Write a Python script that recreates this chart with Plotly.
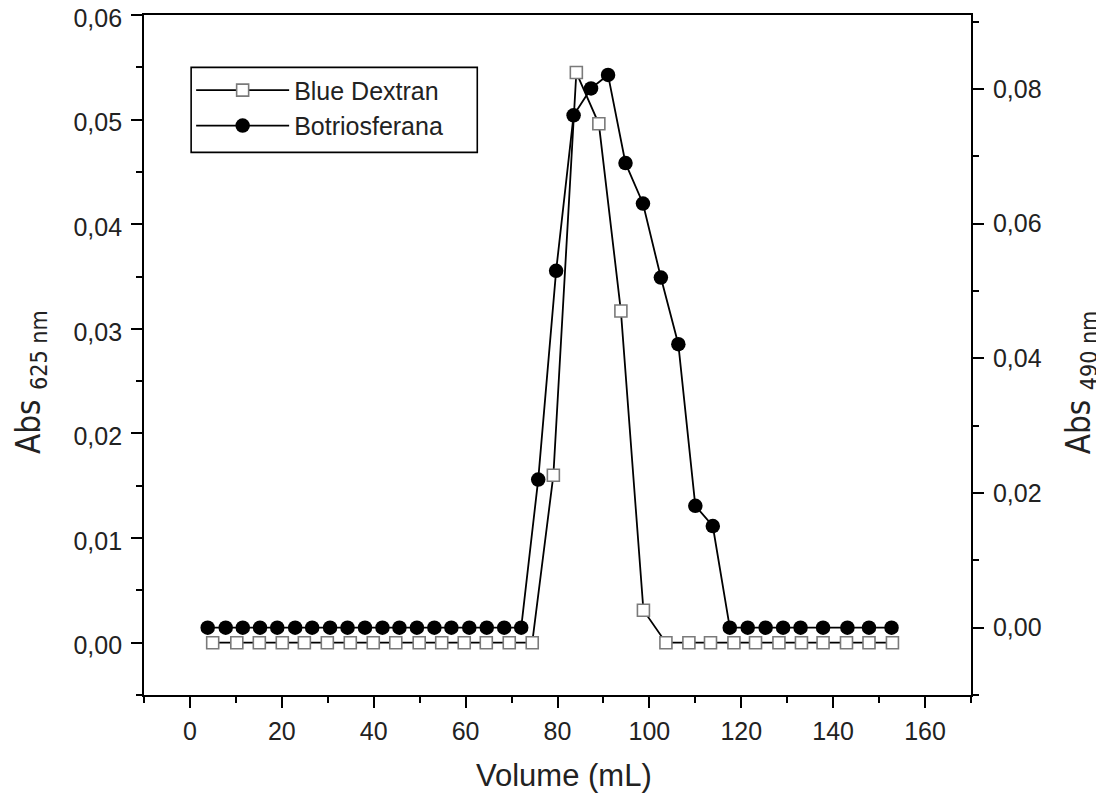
import plotly.graph_objects as go

# Blue Dextran (left axis, Abs 625 nm)
bd_volume = [4.95, 10.2, 15.1, 20.1, 24.9, 29.9, 34.9, 39.9, 44.8, 49.9, 54.8, 59.7, 64.5, 69.5, 74.5,
             79.1, 84.1, 89.0, 93.8, 98.7,
             103.6, 108.6, 113.3, 118.4, 123.1, 128.2, 133.1, 137.8, 142.9, 147.8, 152.9]
bd_abs = [0.0, 0.0, 0.0, 0.0, 0.0, 0.0, 0.0, 0.0, 0.0, 0.0, 0.0, 0.0, 0.0, 0.0, 0.0,
          0.016, 0.0545, 0.0496, 0.0317, 0.0031,
          0.0, 0.0, 0.0, 0.0, 0.0, 0.0, 0.0, 0.0, 0.0, 0.0, 0.0]

# Botriosferana (right axis, Abs 490 nm)
bt_volume = [3.86, 7.78, 11.5, 15.25, 19.0, 22.9, 26.6, 30.5, 34.3, 38.1, 41.9, 45.6, 49.4, 53.2, 56.9,
             60.8, 64.6, 68.4, 72.1,
             75.8, 79.7, 83.5, 87.3, 91.0, 94.8, 98.6, 102.5, 106.3, 110.0, 113.8,
             117.5, 121.4, 125.3, 129.1, 132.9, 137.8, 143.1, 147.8, 152.7]
bt_abs = [0.0, 0.0, 0.0, 0.0, 0.0, 0.0, 0.0, 0.0, 0.0, 0.0, 0.0, 0.0, 0.0, 0.0, 0.0,
          0.0, 0.0, 0.0, 0.0,
          0.022, 0.053, 0.0761, 0.0801, 0.0821, 0.069, 0.063, 0.052, 0.0421, 0.0181, 0.0151,
          0.0, 0.0, 0.0, 0.0, 0.0, 0.0, 0.0, 0.0, 0.0]

series_names = ["Blue Dextran", "Botriosferana"]
x_title = "Volume (mL)"
y1_title = "Abs <sub>625 nm</sub>"
y2_title = "Abs <sub>490 nm</sub>"

FONT = "Arial, Liberation Sans, sans-serif"
NARROW = "Liberation Sans Narrow, Arial Narrow, DejaVu Sans Condensed, sans-serif"
TXT = "#222"

fig = go.Figure()
fig.add_trace(go.Scatter(
    x=bd_volume, y=bd_abs, name=series_names[0], mode="lines+markers",
    line=dict(color="black", width=1.8),
    marker=dict(symbol="square", size=12, color="white", line=dict(color="#7a7a7a", width=1.6)),
    yaxis="y"))
fig.add_trace(go.Scatter(
    x=bt_volume, y=bt_abs, name=series_names[1], mode="lines+markers",
    line=dict(color="black", width=1.8),
    marker=dict(symbol="circle", size=14.5, color="black", line=dict(color="black", width=0)),
    yaxis="y2"))

axis_common = dict(
    showgrid=False, zeroline=False, showline=True, linecolor="black", linewidth=1.8,
    ticks="outside", ticklen=11, tickwidth=1.6, tickcolor="black", automargin=False,
    ticklabeloverflow="allow",
    tickfont=dict(family=FONT, size=25, color=TXT),
)

# the page body has an 8 px margin, so the figure's own margins are offset by it
fig.update_layout(
    width=1104, height=798,
    paper_bgcolor="white", plot_bgcolor="white",
    margin=dict(l=136, r=141, t=7, b=111),
    separators=",.",
    showlegend=True,
    legend=dict(x=0.057, y=0.923, xanchor="left", yanchor="top",
                bgcolor="rgba(0,0,0,0)", borderwidth=0,
                font=dict(family=FONT, size=25, color=TXT),
                tracegroupgap=0, itemwidth=93),
    shapes=[dict(type="rect", xref="paper", yref="paper",
                 x0=0.057, x1=0.403, y0=0.798, y1=0.923,
                 line=dict(color="black", width=1.6), fillcolor="white", layer="below")],
    xaxis=dict(range=[-10, 170], dtick=20, tick0=0, mirror=True,
               minor=dict(dtick=10, tick0=0, ticks="outside", ticklen=6, tickwidth=1.6, tickcolor="black"),
               ticklabelstandoff=2,
               **axis_common),
    yaxis=dict(range=[-0.005, 0.06], dtick=0.01, tick0=0, tickformat=".2f",
               minor=dict(dtick=0.005, tick0=0, ticks="outside", ticklen=6, tickwidth=1.6, tickcolor="black"),
               ticklabelstandoff=4, ticklabelshift=3,
               **axis_common),
    yaxis2=dict(range=[-0.010, 0.091], dtick=0.02, tick0=0, tickformat=".2f",
                overlaying="y", side="right",
                minor=dict(dtick=0.01, tick0=0, ticks="outside", ticklen=6, tickwidth=1.6, tickcolor="black"),
                ticklabelstandoff=4,
                **axis_common),
    annotations=[
        dict(text=x_title, xref="paper", yref="paper", x=0.508, y=-0.118,
             xanchor="center", yanchor="middle", showarrow=False,
             font=dict(family=FONT, size=31, color=TXT)),
        dict(text=y1_title, xref="paper", yref="paper", x=-0.138, y=0.46,
             xanchor="center", yanchor="middle", showarrow=False, textangle=-90,
             font=dict(family=NARROW, size=33, color=TXT)),
        dict(text=y2_title, xref="paper", yref="paper", x=1.132, y=0.46,
             xanchor="center", yanchor="middle", showarrow=False, textangle=-90,
             font=dict(family=NARROW, size=33, color=TXT)),
    ],
)

fig.write_html("out.html")
